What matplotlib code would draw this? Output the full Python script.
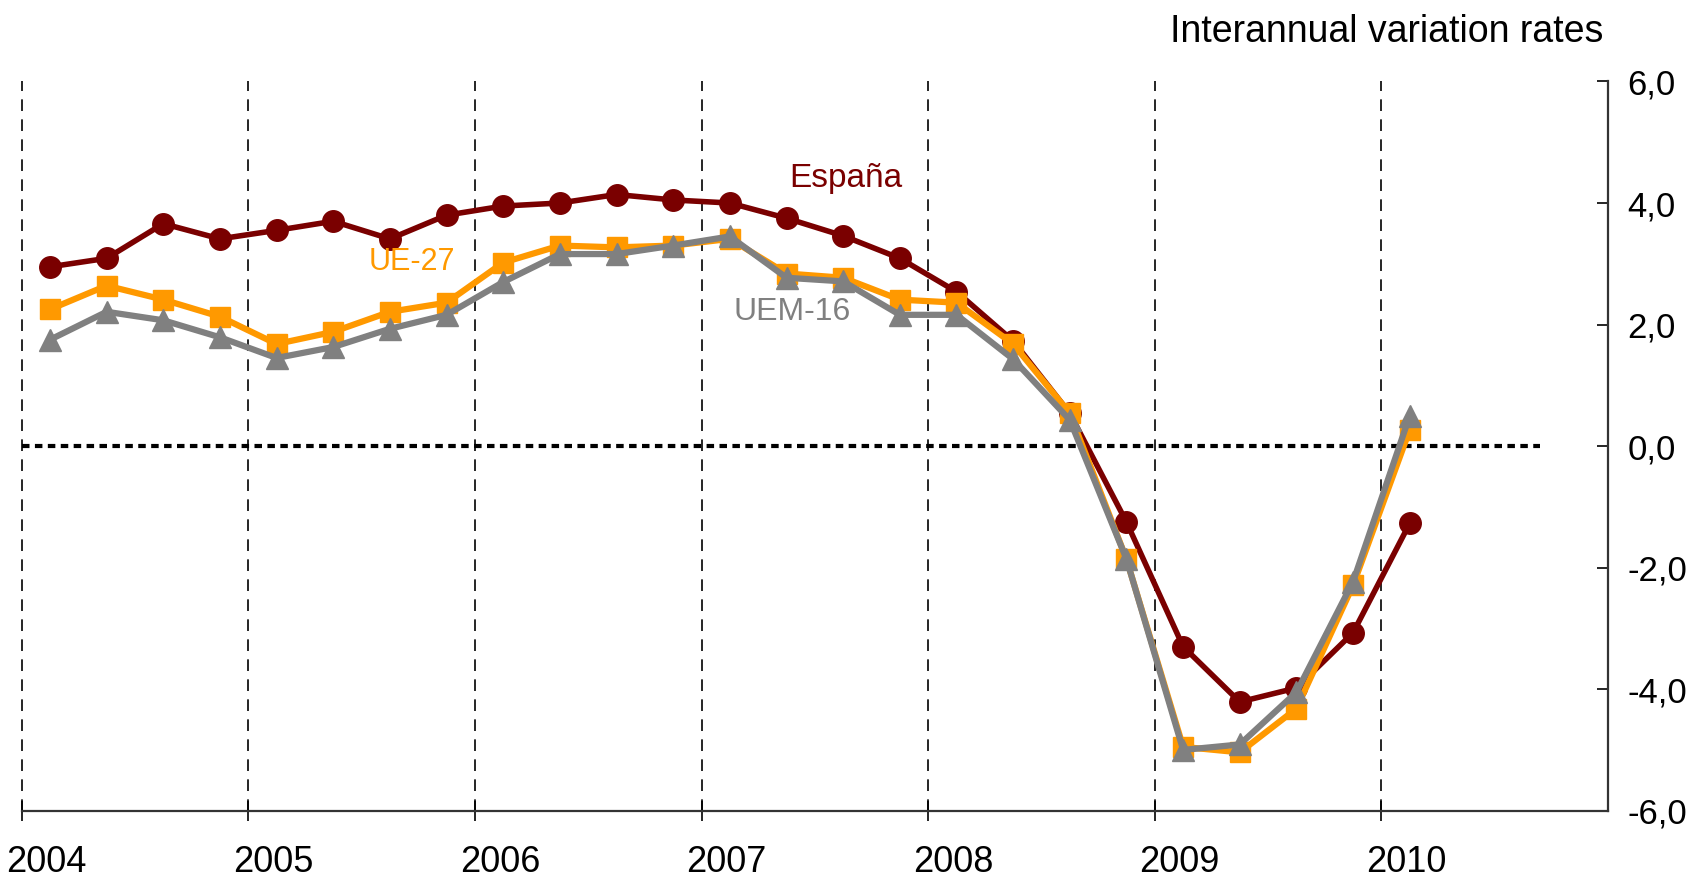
import matplotlib
matplotlib.use("Agg")
import matplotlib.pyplot as plt
import matplotlib.transforms as mtransforms
from matplotlib.ticker import FuncFormatter

plt.rcParams['font.family'] = ['Liberation Sans', 'DejaVu Sans']

# quarterly data, 2004 Q1 .. 2010 Q1
quarters = [2004 + i * 0.25 + 0.125 for i in range(25)]

espana = [2.95, 3.09, 3.66, 3.41,
          3.55, 3.70, 3.41, 3.80,
          3.95, 4.00, 4.14, 4.05,
          4.00, 3.75, 3.46, 3.09,
          2.54, 1.73, 0.54, -1.25,
          -3.30, -4.21, -3.98, -3.07,
          -1.27]
ue27 = [2.25, 2.64, 2.41, 2.13,
        1.68, 1.88, 2.21, 2.36,
        3.02, 3.30, 3.27, 3.30,
        3.41, 2.84, 2.77, 2.41,
        2.36, 1.68, 0.54, -1.86,
        -4.95, -5.04, -4.32, -2.29,
        0.27]
uem16 = [1.75, 2.21, 2.07, 1.79,
         1.45, 1.63, 1.93, 2.16,
         2.70, 3.16, 3.16, 3.30,
         3.45, 2.77, 2.71, 2.16,
         2.16, 1.43, 0.43, -1.86,
         -5.00, -4.91, -4.05, -2.23,
         0.50]

years = [2004, 2005, 2006, 2007, 2008, 2009, 2010]
y_ticks = [-6, -4, -2, 0, 2, 4, 6]

RED = "#7a0000"
ORANGE = "#ff9900"
GREY = "#808080"

fig = plt.figure(figsize=(17.04, 8.77), dpi=100)
ax = fig.add_axes([0.0127, 0.0756, 0.931, 0.8315])

ax.set_xlim(2004, 2011)
ax.set_ylim(-6, 6)

# year grid lines
for yr in years:
    ax.axvline(yr, color="black", lw=1.2, ls=(0, (7, 5)), zorder=1, clip_on=False)

# zero line
ax.plot([2004, 2010.7], [0, 0], color="black", lw=3, ls=(0, (1.8, 1.3)), zorder=2)

ax.plot(quarters, espana, color=RED, lw=4, marker="o", ms=15.5, zorder=3)
ax.plot(quarters, ue27, color=ORANGE, lw=4.5, marker="s", ms=14.5, zorder=4)
ax.plot(quarters, uem16, color=GREY, lw=4.5, marker="^", ms=16, zorder=5)

ax.text(2007.635, 4.41, "España", color=RED, fontsize=24, ha="center", va="center")
ax.text(2005.72, 3.03, "UE-27", color=ORANGE, fontsize=22, ha="center", va="center")
ax.text(2007.40, 2.20, "UEM-16", color=GREY, fontsize=23, ha="center", va="center")

fig.text(0.9407, 0.963, "Interannual variation rates", fontsize=27, ha="right", va="center")

# axes styling
for side in ["top", "left"]:
    ax.spines[side].set_visible(False)
for side in ["bottom", "right"]:
    ax.spines[side].set_color("#333333")
    ax.spines[side].set_linewidth(1.6)

ax.yaxis.tick_right()
ax.set_yticks(y_ticks)
ax.yaxis.set_major_formatter(FuncFormatter(lambda v, p: f"{v:.1f}".replace(".", ",")))
ax.tick_params(axis="y", direction="in", length=8, width=1.2, pad=14, labelsize=25)

ax.set_xticks(years)
ax.set_xticklabels([str(y) for y in years])
ax.tick_params(axis="x", direction="inout", length=14, width=1.2, pad=18, labelsize=26)
offset = mtransforms.ScaledTranslation(0.25, 0, fig.dpi_scale_trans)
for lbl in ax.get_xticklabels():
    lbl.set_transform(lbl.get_transform() + offset)

fig.savefig("out.png", dpi=100)
